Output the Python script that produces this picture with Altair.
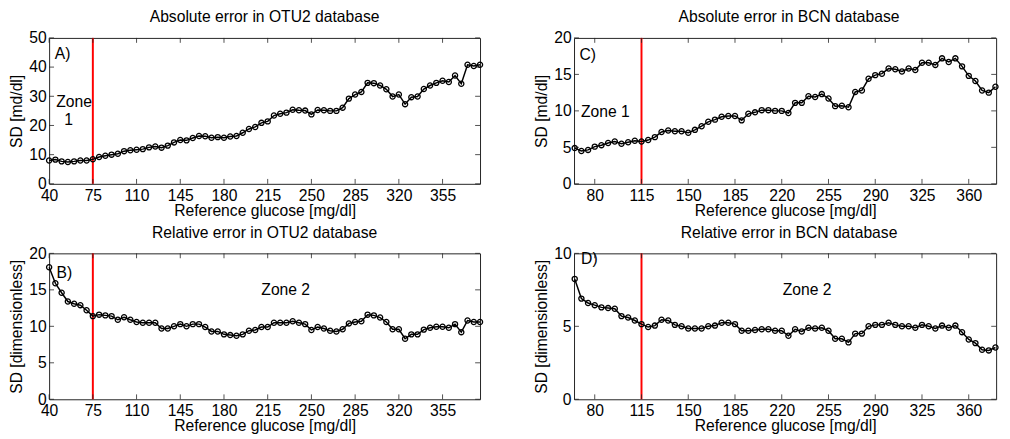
import altair as alt
import pandas as pd

FONT = "Liberation Sans"

# ---- data ----
glucose_otu2 = [40, 45, 50, 55, 60, 65, 70, 75, 80, 85, 90, 95, 100, 105, 110, 115, 120, 125, 130, 135,
                140, 145, 150, 155, 160, 165, 170, 175, 180, 185, 190, 195, 200, 205, 210, 215, 220, 225,
                230, 235, 240, 245, 250, 255, 260, 265, 270, 275, 280, 285, 290, 295, 300, 305, 310, 315,
                320, 325, 330, 335, 340, 345, 350, 355, 360, 365, 370, 375, 380, 385]
otu2_abs = [8.0, 8.3, 7.7, 7.5, 7.7, 8.0, 8.0, 8.4, 9.2, 9.6, 10.0, 10.3, 11.2, 11.5, 11.7, 11.9, 12.5, 12.8,
            12.4, 13.1, 14.2, 15.0, 14.9, 15.7, 16.4, 16.3, 15.8, 16.0, 15.8, 16.2, 16.4, 17.5, 18.8, 19.5,
            20.9, 21.4, 23.4, 24.0, 24.4, 25.4, 25.2, 25.1, 23.8, 25.3, 25.2, 25.0, 25.0, 26.1, 29.2, 30.6,
            31.5, 34.6, 34.5, 33.7, 32.4, 29.9, 30.6, 27.3, 29.7, 29.9, 32.5, 33.7, 34.6, 35.3, 34.9, 37.1,
            34.3, 40.8, 40.4, 40.8]
otu2_rel = [18.1, 15.9, 14.6, 13.4, 13.1, 12.9, 12.2, 11.4, 11.6, 11.5, 11.4, 10.9, 11.25, 10.9, 10.6, 10.5,
            10.5, 10.5, 9.7, 9.7, 10.0, 10.3, 10.0, 10.3, 10.3, 9.9, 9.3, 9.3, 8.9, 8.8, 8.7, 8.9, 9.4, 9.5,
            9.9, 9.9, 10.5, 10.5, 10.5, 10.7, 10.5, 10.3, 9.5, 9.9, 9.7, 9.4, 9.3, 9.6, 10.4, 10.6, 10.7, 11.6,
            11.5, 11.2, 10.6, 9.6, 9.6, 8.3, 8.9, 8.9, 9.55, 9.8, 9.95, 9.95, 9.8, 10.3, 9.2, 10.8, 10.6, 10.6]

glucose_bcn = [65, 70, 75, 80, 85, 90, 95, 100, 105, 110, 115, 120, 125, 130, 135, 140, 145, 150, 155, 160,
               165, 170, 175, 180, 185, 190, 195, 200, 205, 210, 215, 220, 225, 230, 235, 240, 245, 250, 255,
               260, 265, 270, 275, 280, 285, 290, 295, 300, 305, 310, 315, 320, 325, 330, 335, 340, 345, 350,
               355, 360, 365, 370, 375, 380]
bcn_abs = [4.9, 4.5, 4.65, 5.1, 5.3, 5.6, 5.8, 5.5, 5.7, 5.9, 5.8, 6.0, 6.4, 7.1, 7.3, 7.2, 7.2, 7.0, 7.4, 7.9,
           8.5, 8.8, 9.2, 9.3, 9.3, 8.7, 9.6, 9.8, 10.1, 10.1, 10.0, 10.0, 9.7, 11.1, 11.1, 12.0, 11.9, 12.3,
           11.7, 10.65, 10.7, 10.5, 12.6, 12.8, 14.4, 14.9, 15.1, 15.8, 15.7, 15.4, 15.8, 15.6, 16.6, 16.6,
           16.3, 17.2, 16.7, 17.2, 16.1, 14.8, 14.1, 12.8, 12.5, 13.3]
bcn_rel = [8.25, 6.9, 6.6, 6.45, 6.3, 6.25, 6.2, 5.7, 5.6, 5.4, 5.15, 4.95, 5.05, 5.45, 5.4, 5.1, 5.0, 4.85,
           4.85, 4.85, 5.0, 5.05, 5.25, 5.25, 5.15, 4.7, 4.7, 4.75, 4.8, 4.8, 4.7, 4.7, 4.35, 4.8, 4.65, 4.9,
           4.85, 4.9, 4.7, 4.15, 4.15, 3.9, 4.5, 4.5, 5.0, 5.1, 5.1, 5.25, 5.1, 5.0, 5.0, 4.9, 5.1, 5.0, 4.85,
           5.05, 4.9, 5.05, 4.6, 4.1, 3.85, 3.4, 3.35, 3.55]

otu2_xticks = [40, 75, 110, 145, 180, 215, 250, 285, 320, 355]
bcn_xticks = [80, 115, 150, 185, 220, 255, 290, 325, 360]
otu2_abs_yticks = [0, 10, 20, 30, 40, 50]
otu2_rel_yticks = [0, 5, 10, 15, 20]
bcn_abs_yticks = [0, 5, 10, 15, 20]
bcn_rel_yticks = [0, 5, 10]

otu2_zone_limit = [75]
bcn_zone_limit = [115]

titles = ["Absolute error in OTU2 database", "Relative error in OTU2 database",
          "Absolute error in BCN database", "Relative error in BCN database"]
x_title = "Reference glucose [mg/dl]"
y_titles = ["SD [md/dl]", "SD [dimensionless]", "SD [md/dl]", "SD [dimensionless]"]

# panel letters: (label, x, y) in data units
letters = [("A)", 44.5, 44.4), ("B)", 46.0, 17.3), ("C)", 68.5, 17.7), ("D)", 69.8, 9.6)]
# zone labels: list per panel of (label, x, y)
zone_labels = [
    [("Zone", 60.0, 28.0), ("1", 55.5, 21.9)],
    [("Zone 2", 229.4, 14.9)],
    [("Zone 1", 87.9, 9.9)],
    [("Zone 2", 239.0, 7.5)],
]

W_LEFT, W_RIGHT, H = 440, 431, 149


def panel(title, xs, ys, xdomain, xticks, ydomain, yticks, ytitle, zone_x, letter, zones, W, title_dx=0):
    df = pd.DataFrame({"x": xs, "y": ys})
    xenc = alt.X("x:Q", scale=alt.Scale(domain=xdomain, nice=False, zero=False),
                 axis=alt.Axis(values=xticks, title=x_title, ticks=False, domain=False, grid=False,
                               labelPadding=4, titlePadding=-1, labelFlush=False, labelOverlap=False))
    yenc = alt.Y("y:Q", scale=alt.Scale(domain=ydomain, nice=False, zero=False),
                 axis=alt.Axis(values=yticks, title=ytitle, ticks=False, domain=False, grid=False,
                               labelPadding=3, titlePadding=4, labelFlush=False, labelOverlap=False))
    line = alt.Chart(df).mark_line(color="black", strokeWidth=1.5).encode(x=xenc, y=yenc)
    pts = alt.Chart(df).mark_point(shape="circle", filled=False, size=28, strokeWidth=1.3,
                                   color="black", opacity=1).encode(x=xenc, y=yenc)
    zone = alt.Chart(pd.DataFrame({"x": zone_x})).mark_rule(color="#ff0000", strokeWidth=2).encode(x=xenc)
    xt = pd.DataFrame({"x": xticks})
    yt = pd.DataFrame({"y": yticks})
    tick_style = dict(color="#222222", strokeWidth=0.8)
    xb = alt.Chart(xt).mark_rule(**tick_style).encode(x=xenc, y=alt.value(H), y2=alt.value(H - 5))
    xtp = alt.Chart(xt).mark_rule(**tick_style).encode(x=xenc, y=alt.value(0), y2=alt.value(5))
    yl = alt.Chart(yt).mark_rule(**tick_style).encode(y=yenc, x=alt.value(0), x2=alt.value(5))
    yr = alt.Chart(yt).mark_rule(**tick_style).encode(y=yenc, x=alt.value(W), x2=alt.value(W - 5))
    let_df = pd.DataFrame({"x": [letter[1]], "y": [letter[2]], "t": [letter[0]]})
    let_txt = alt.Chart(let_df).mark_text(align="left", baseline="middle", font=FONT, fontSize=16,
                                          color="black").encode(x=xenc, y=yenc, text="t:N")
    z_df = pd.DataFrame({"x": [z[1] for z in zones], "y": [z[2] for z in zones], "t": [z[0] for z in zones]})
    z_txt = alt.Chart(z_df).mark_text(align="center", baseline="middle", font=FONT, fontSize=16,
                                      color="black").encode(x=xenc, y=yenc, text="t:N")
    return alt.layer(zone, xb, xtp, yl, yr, line, pts, let_txt, z_txt).properties(
        width=W, height=H,
        title=alt.TitleParams(title, font=FONT, fontSize=16, fontWeight="normal", color="black",
                              frame="group", anchor="middle", offset=5, dx=title_dx))


pA = panel(titles[0], glucose_otu2, otu2_abs, [40, 385], otu2_xticks, [0, 50], otu2_abs_yticks,
           y_titles[0], otu2_zone_limit, letters[0], zone_labels[0], W_LEFT)
pB = panel(titles[1], glucose_otu2, otu2_rel, [40, 385], otu2_xticks, [0, 20], otu2_rel_yticks,
           y_titles[1], otu2_zone_limit, letters[1], zone_labels[1], W_LEFT)
pC = panel(titles[2], glucose_bcn, bcn_abs, [64.5, 380.5], bcn_xticks, [0, 20], bcn_abs_yticks,
           y_titles[2], bcn_zone_limit, letters[2], zone_labels[2], W_RIGHT, title_dx=4)
pD = panel(titles[3], glucose_bcn, bcn_rel, [64.5, 380.5], bcn_xticks, [0, 10], bcn_rel_yticks,
           y_titles[3], bcn_zone_limit, letters[3], zone_labels[3], W_RIGHT, title_dx=4)

row1 = alt.hconcat(pA, pC, spacing=48)
row2 = alt.hconcat(pB, pD, spacing=48)
chart = alt.vconcat(row1, row2, spacing=5).properties(
    padding={"left": 0, "top": -4, "right": 0, "bottom": 0}, background="white"
).configure_view(
    stroke="#222222", strokeWidth=1
).configure_axis(
    labelFont=FONT, labelFontSize=16, labelColor="black",
    titleFont=FONT, titleFontSize=16, titleFontWeight="normal", titleColor="black"
)

chart.save("out.html", embed_options={"renderer": "svg", "actions": False})
